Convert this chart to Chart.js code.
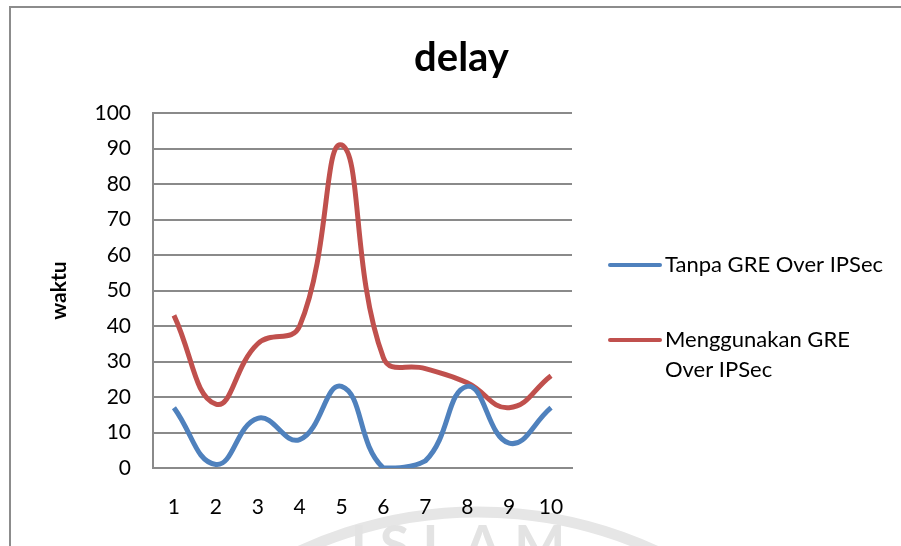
<!DOCTYPE html>
<html>
<head>
  <title>delay</title>
  <script src="https://cdn.jsdelivr.net/npm/chart.js"></script>
  <style>
    body {
      margin: 0;
      background-color: #fff;
    }

    #wrap {
      position: relative;
      width: 901px;
      height: 546px;
      overflow: hidden;
    }

    #frame {
      position: absolute;
      left: 9px;
      top: 6px;
      width: 1000px;
      height: 1000px;
      border-left: 2px solid #8c8c8c;
      border-top: 2px solid #8c8c8c;
    }

    canvas {
      position: absolute;
      left: 0;
      top: 0;
    }
  </style>
</head>
<body>
  <div id="wrap">
    <div id="frame"></div>
    <canvas id="delayChart" width="901" height="546"></canvas>
  </div>

  <script>
    // values
    const categories = ['1', '2', '3', '4', '5', '6', '7', '8', '9', '10'];
    const tanpaGre = [17, 1, 14, 8, 23, 0, 2, 23, 7, 17];
    const denganGre = [43, 18, 35, 40, 91, 31, 28, 24, 17, 26];
    const seriesNames = ['Tanpa GRE Over IPSec', 'Menggunakan GRE Over IPSec'];
    const legendLines = [['Tanpa GRE Over IPSec'], ['Menggunakan GRE', 'Over IPSec']];
    const yMin = 0;
    const yMax = 100;
    const yStep = 10;

    const fontFamily = 'Lato, "Open Sans", sans-serif';
    const gridColor = '#8a8a8a';

    // faint page watermark behind the chart (arc + word)
    const watermark = {
      id: 'watermark',
      beforeDraw(chart) {
        const ctx = chart.ctx;
        ctx.save();
        ctx.strokeStyle = '#e6e6e6';
        ctx.lineWidth = 11;
        ctx.beginPath();
        ctx.arc(478, 937, 425, Math.PI * 1.15, Math.PI * 1.85);
        ctx.stroke();
        ctx.fillStyle = '#e3e3e3';
        ctx.font = 'bold 54px ' + fontFamily;
        ctx.textAlign = 'center';
        ctx.textBaseline = 'top';
        ctx.fillText('I S L A M', 458, 520);
        ctx.restore();
      }
    };

    // legend on the right, with the second name wrapped on two lines
    const sideLegend = {
      id: 'sideLegend',
      afterDraw(chart) {
        const ctx = chart.ctx;
        const x0 = chart.chartArea.right + 38;
        const rows = [265, 340];
        ctx.save();
        ctx.font = '22px ' + fontFamily;
        ctx.textBaseline = 'middle';
        ctx.textAlign = 'left';
        chart.data.datasets.forEach((ds, i) => {
          const y = rows[i];
          ctx.strokeStyle = ds.borderColor;
          ctx.lineWidth = 4;
          ctx.lineCap = 'round';
          ctx.beginPath();
          ctx.moveTo(x0, y);
          ctx.lineTo(x0 + 50, y);
          ctx.stroke();
          ctx.fillStyle = '#000';
          legendLines[i].forEach((t, j) => ctx.fillText(t, x0 + 55, y + j * 30));
        });
        ctx.restore();
      }
    };

    const ctx = document.getElementById('delayChart').getContext('2d');
    new Chart(ctx, {
      type: 'line',
      data: {
        labels: categories,
        datasets: [
          {
            label: seriesNames[0],
            data: tanpaGre,
            borderColor: '#4f81bd',
            borderWidth: 5,
            pointRadius: 0,
            tension: 0.45,
            fill: false
          },
          {
            label: seriesNames[1],
            data: denganGre,
            borderColor: '#c0504d',
            borderWidth: 5,
            pointRadius: 0,
            tension: 0.45,
            fill: false
          }
        ]
      },
      options: {
        responsive: false,
        animation: false,
        layout: { padding: { left: 22, right: 0, top: 0, bottom: 0 } },
        plugins: {
          legend: { display: false },
          tooltip: { enabled: false },
          title: {
            display: true,
            text: 'delay',
            color: '#000',
            font: { family: fontFamily, size: 40, weight: 'bold' },
            padding: { top: 34, bottom: 31 }
          }
        },
        scales: {
          x: {
            offset: true,
            grid: { display: false, drawTicks: false },
            border: { display: true, color: gridColor, width: 2 },
            ticks: {
              color: '#000',
              padding: 27,
              font: { family: fontFamily, size: 21 }
            },
            afterFit(scale) { scale.height = 78; }
          },
          y: {
            min: yMin,
            max: yMax,
            grid: { color: gridColor, lineWidth: 2, drawTicks: false },
            border: { display: true, color: gridColor, width: 2 },
            ticks: {
              stepSize: yStep,
              color: '#000',
              padding: 22,
              font: { family: fontFamily, size: 21 }
            },
            title: {
              display: true,
              text: 'waktu',
              color: '#000',
              font: { family: fontFamily, size: 21, weight: 'bold' },
              padding: { top: 25, bottom: 0 }
            },
            afterFit(scale) { scale.width = 131; }
          },
          side: {
            position: 'right',
            min: 0,
            max: 1,
            grid: { display: false },
            border: { display: false },
            ticks: { display: false },
            afterFit(scale) { scale.width = 329; }
          }
        }
      },
      plugins: [watermark, sideLegend]
    });
  </script>
</body>
</html>
